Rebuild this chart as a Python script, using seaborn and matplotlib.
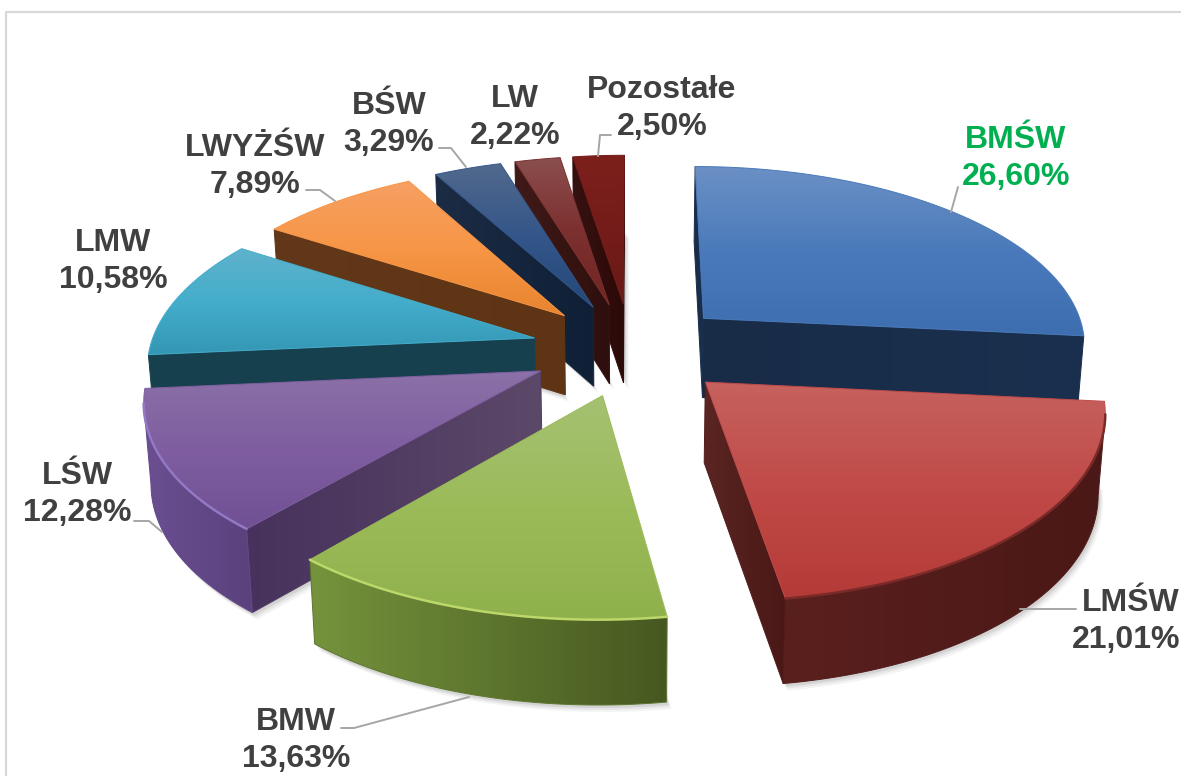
import numpy as np
import seaborn as sns
import matplotlib.pyplot as plt
from matplotlib.patches import Polygon

labels = ['BMŚW', 'LMŚW', 'BMW', 'LŚW', 'LMW', 'LWYŻŚW', 'BŚW', 'LW', 'Pozostałe']
values = [26.60, 21.01, 13.63, 12.28, 10.58, 7.89, 3.29, 2.22, 2.50]

# top face gradient, back to front
top_colors = [
    ['#6b90c5', '#4a7abb', '#3d6eaf'],
    ['#c6625f', '#c04a47', '#b43a37'],
    ['#a5c172', '#9bbb59', '#8fb14c'],
    ['#8b71a7', '#7f5da0', '#705094'],
    ['#5fb2cc', '#43adcb', '#3497b4'],
    ['#f6a063', '#f79646', '#e8842e'],
    ['#52698c', '#34568a', '#24487a'],
    ['#8a4f4e', '#7c302f', '#702624'],
    ['#7d201c', '#741c19', '#6a1a17'],
]
# side colours, left to right
side_colors = [
    ['#1a304e', '#182c48'],
    ['#5a201e', '#4a1816'],
    ['#75933c', '#465820'],
    ['#6b4f92', '#5a417c'],
    ['#17414f', '#17404f'],
    ['#66391a', '#5e3414'],
    ['#1c2c44', '#0e1f36'],
    ['#401a18', '#2e0f0d'],
    ['#361110', '#2c0a08'],
]
radial_colors = [
    ['#182c48', '#1a304e'],
    ['#5a2522', '#4a1816'],
    ['#75933c', '#465820'],
    ['#46325c', '#5c4868'],
    ['#17404f', '#17414f'],
    ['#63381a', '#5e3414'],
    ['#1c2c44', '#0e1f36'],
    ['#401a18', '#2e0f0d'],
    ['#361110', '#2c0a08'],
]
rim_colors = ['#35598c', '#7a2a28', '#bcd76a', '#9378c4', '#3a9ab8', '#d97f2e', '#2a4870', '#5c2422', '#5c1512']

label_x = [1016, 1131, 296, 77, 113, 255, 389, 515, 662]
value_x = [1016, 1126, 296, 77, 113, 255, 389, 515, 662]
label_y = [140, 603, 722, 476, 243, 148, 106, 99, 90]
text_colors = ['#00b050'] + ['#404040'] * 8

leaders = [
    ([958, 951], [187, 212]),
    ([1076, 1020], [609, 609]),
    ([341, 354, 469], [728, 728, 697]),
    ([134, 149, 162], [521, 521, 532]),
    ([306, 320, 335], [190, 190, 201]),
    ([439, 451, 466], [148, 148, 167]),
    ([611, 600, 598], [135, 135, 156]),
]

CX, CY = 631, 349
RX, RY = 385, 180
PERSP = 0.135
EXPLODE = 0.26
DEPTH = 80

sns.set_theme(style='white', font='Liberation Sans')
fig = plt.figure(figsize=(11.81, 7.76), dpi=100)
ax = fig.add_axes([0, 0, 1, 1])
ax.set_xlim(0, 1181)
ax.set_ylim(776, 0)
ax.set_axis_off()
ax.autoscale(False)


def project(u, v, low=False):
    x = CX + RX * u / (1 + PERSP * v)
    y = CY - RY * v / (1 + PERSP * v)
    if low:
        x = CX + (x - CX) * 0.985
        y = y + DEPTH / (1 + 0.05 * v)
    return np.array([x, y]).T


def grad_poly(pts, colors, vertical=True, zorder=1):
    pts = np.asarray(pts)
    cmap = sns.blend_palette(colors, n_colors=128, as_cmap=True)
    ramp = np.linspace(0, 1, 128)
    ramp = ramp[:, None] if vertical else ramp[None, :]
    x0, y0 = pts.min(axis=0)
    x1, y1 = pts.max(axis=0)
    im = ax.imshow(ramp, cmap=cmap, extent=(x0, x1 + 0.01, y1 + 0.01, y0), aspect='auto',
                   origin='upper', zorder=zorder, vmin=0, vmax=1)
    clip = Polygon(pts, closed=True, transform=ax.transData)
    im.set_clip_path(clip)
    edge = sns.blend_palette(colors, n_colors=3)[1]
    ax.add_patch(Polygon(pts, closed=True, fill=False, edgecolor=edge, lw=0.7, zorder=zorder))


# wedge angles from the values, clockwise from 12 o'clock
edges = np.cumsum([0] + values) / sum(values) * 2 * np.pi
wedges = []
for i in range(len(values)):
    a0, a1 = edges[i], edges[i + 1]
    mid = (a0 + a1) / 2
    wedges.append((EXPLODE * np.cos(mid), i, a0, a1, mid))

# painter's order: back wedges first
for n, (_, i, a0, a1, mid) in enumerate(sorted(wedges, key=lambda w: -w[0])):
    z = 2 + n * 2
    au, av = EXPLODE * np.sin(mid), EXPLODE * np.cos(mid)
    t = np.linspace(a0, a1, 80)
    ru, rv = au + np.sin(t), av + np.cos(t)

    apex_top = project(au, av)
    apex_low = project(au, av, low=True)
    rim_top = project(ru, rv)
    rim_low = project(ru, rv, low=True)

    # soft shadow under the solid
    outline = np.vstack([apex_low[None, :], rim_low])
    for off, alpha in [(7, 0.05), (5, 0.07), (3, 0.10)]:
        ax.add_patch(Polygon(outline + [off * 0.7, off], closed=True, color='#303030', alpha=alpha,
                             lw=0, zorder=z))

    # radial faces, hidden one first
    faces = []
    for ang, normal in [(a0, a0 - np.pi / 2), (a1, a1 + np.pi / 2)]:
        nu, nv = np.sin(normal), np.cos(normal)
        facing = nu * (0 - au) + nv * (-1 / PERSP - av)
        faces.append((facing, ang))
    for facing, ang in sorted(faces):
        if facing <= 0:
            continue
        eu, ev = au + np.sin(ang), av + np.cos(ang)
        grad_poly([apex_top, project(eu, ev), project(eu, ev, low=True), apex_low],
                  radial_colors[i], vertical=False, zorder=z)

    # outer wall, only the part turned to the viewer
    seen = np.diff(rim_top[:, 0]) < 0
    if seen.any():
        idx = np.where(seen)[0]
        k0, k1 = idx[0], idx[-1] + 2
        grad_poly(np.vstack([rim_top[k0:k1], rim_low[k0:k1][::-1]]), side_colors[i],
                  vertical=False, zorder=z)

    grad_poly(np.vstack([apex_top[None, :], rim_top]), top_colors[i], zorder=z + 1)

    if seen.any():
        ax.plot(rim_top[k0:k1, 0], rim_top[k0:k1, 1], color=rim_colors[i], lw=1.8,
                solid_capstyle='round', zorder=z + 1)

# leader lines
for xs, ys in leaders:
    ax.plot(xs, ys, color='#a6a6a6', lw=1.4, zorder=30)

# labels
for i in range(len(labels)):
    pct = f'{values[i]:.2f}'.replace('.', ',') + '%'
    ax.text(label_x[i], label_y[i], labels[i], ha='center', va='center', fontsize=23,
            fontweight='bold', color=text_colors[i], zorder=31, clip_on=False)
    ax.text(value_x[i], label_y[i] + 37, pct, ha='center', va='center', fontsize=23,
            fontweight='bold', color=text_colors[i], zorder=31, clip_on=False)

# chart area border
ax.plot([5.5, 5.5, 1181], [776, 12, 12], color='#d9d9d9', lw=1.6, zorder=0)

fig.savefig('out.png', dpi=100)
